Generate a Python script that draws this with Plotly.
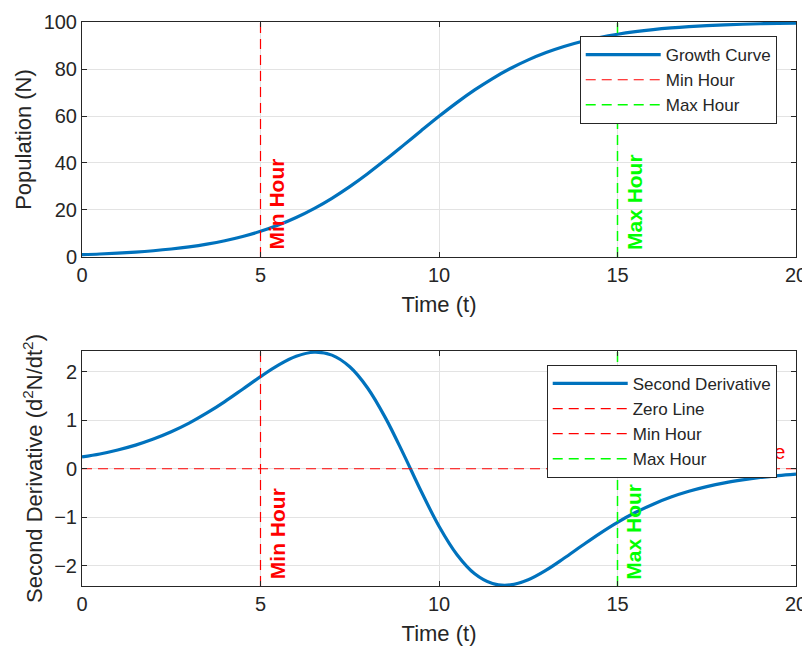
import plotly.graph_objects as go
from plotly.subplots import make_subplots

# ---- data ----
t = [0, 0.5, 1, 1.5, 2, 2.5, 3, 3.5, 4, 4.5, 5, 5.5, 6, 6.5, 7, 7.5, 8, 8.5, 9, 9.5,
     10, 10.5, 11, 11.5, 12, 12.5, 13, 13.5, 14, 14.5, 15, 15.5, 16, 16.5, 17, 17.5,
     18, 18.5, 19, 19.5, 20]
population = [1.0, 1.27, 1.63, 2.08, 2.66, 3.39, 4.31, 5.47, 6.91, 8.71, 10.91, 13.59,
              16.80, 20.58, 24.97, 29.94, 35.43, 41.34, 47.50, 53.74, 59.87, 65.70,
              71.10, 75.95, 80.22, 83.89, 86.99, 89.57, 91.68, 93.40, 94.79, 95.89,
              96.77, 97.47, 98.02, 98.45, 98.79, 99.05, 99.26, 99.42, 99.55]
second_deriv = [0.243, 0.305, 0.388, 0.488, 0.613, 0.763, 0.942, 1.151, 1.386, 1.642,
                1.900, 2.138, 2.320, 2.404, 2.345, 2.104, 1.667, 1.050, 0.312, -0.465,
                -1.186, -1.769, -2.168, -2.370, -2.398, -2.290, -2.093, -1.848, -1.590,
                -1.338, -1.106, -0.904, -0.731, -0.585, -0.466, -0.370, -0.292, -0.231,
                -0.181, -0.142, -0.111]
min_hour = 5
max_hour = 15
top_range = [0, 100]
bot_range = [-2.42, 2.43]
x_ticks = [0, 5, 10, 15, 20]
top_ticks = [0, 20, 40, 60, 80, 100]
bot_ticks = [-2, -1, 0, 1, 2]

BLUE = "#0072BD"
RED = "#FF0000"
GREEN = "#00FF00"
DARK = "#262626"
FONT = "Liberation Sans"
DASH = "10px,6px"

fig = make_subplots(rows=2, cols=1, vertical_spacing=0.1667)

# top
fig.add_trace(go.Scatter(x=t, y=population, mode="lines", name="Growth Curve",
                         line=dict(color=BLUE, width=3.2, shape="spline"), legend="legend"), 1, 1)
fig.add_trace(go.Scatter(x=[min_hour, min_hour], y=top_range, mode="lines", name="Min Hour",
                         line=dict(color=RED, width=1.2, dash=DASH), legend="legend"), 1, 1)
fig.add_trace(go.Scatter(x=[max_hour, max_hour], y=top_range, mode="lines", name="Max Hour",
                         line=dict(color=GREEN, width=1.5, dash=DASH), legend="legend"), 1, 1)

# bottom
fig.add_trace(go.Scatter(x=[t[-1]-0.3], y=[0.1], mode="text", text=["Zero Line"],
                         textposition="top left", textfont=dict(color=RED, size=20, family=FONT),
                         showlegend=False, hoverinfo="skip"), 2, 1)
fig.add_trace(go.Scatter(x=t, y=second_deriv, mode="lines", name="Second Derivative",
                         line=dict(color=BLUE, width=3.2, shape="spline"), legend="legend2"), 2, 1)
fig.add_trace(go.Scatter(x=[t[0], t[-1]], y=[0, 0], mode="lines", name="Zero Line",
                         line=dict(color=RED, width=1.2, dash=DASH), legend="legend2"), 2, 1)
fig.add_trace(go.Scatter(x=[min_hour, min_hour], y=bot_range, mode="lines", name="Min Hour",
                         line=dict(color=RED, width=1.2, dash=DASH), legend="legend2"), 2, 1)
fig.add_trace(go.Scatter(x=[max_hour, max_hour], y=bot_range, mode="lines", name="Max Hour",
                         line=dict(color=GREEN, width=1.5, dash=DASH), legend="legend2"), 2, 1)

ann_font = dict(family=FONT, size=21, color=RED)
for (xref, yref, yval) in [("x", "y", 2.1), ("x2", "y2", -2.33)]:
    fig.add_annotation(x=min_hour, y=yval, xref=xref, yref=yref, text="<b>Min Hour</b>",
                       textangle=-90, showarrow=False, xanchor="left", yanchor="bottom",
                       xshift=3, font=ann_font)
    fig.add_annotation(x=max_hour, y=yval, xref=xref, yref=yref, text="<b>Max Hour</b>",
                       textangle=-90, showarrow=False, xanchor="left", yanchor="bottom",
                       xshift=3, font=dict(ann_font, color=GREEN))

axis_common = dict(showline=True, mirror="ticks", linecolor=DARK, linewidth=1,
                   ticks="inside", ticklen=5, tickcolor=DARK, showgrid=True,
                   gridcolor="#E3E3E3", gridwidth=1, zeroline=False, automargin=False,
                   tickfont=dict(family=FONT, size=20, color=DARK),
                   title_font=dict(family=FONT, size=22, color=DARK))

fig.update_xaxes(axis_common, range=[0, 20], tickvals=x_ticks, title_text="Time (t)",
                 title_standoff=11)
fig.update_yaxes(axis_common, title_standoff=5)
fig.update_yaxes(range=top_range, tickvals=top_ticks, title_text="Population (N)", row=1, col=1)
fig.update_yaxes(range=bot_range, tickvals=bot_ticks,
                 title_text="Second Derivative (d<sup>2</sup>N/dt<sup>2</sup>)", row=2, col=1)

leg_common = dict(bgcolor="white", bordercolor=DARK, borderwidth=1,
                  font=dict(family=FONT, size=17, color=DARK),
                  xanchor="right", yanchor="top", tracegroupgap=0, itemwidth=75)
fig.update_layout(
    width=810, height=649,
    margin=dict(l=74, r=22, t=14, b=71),
    paper_bgcolor="white", plot_bgcolor="white",
    legend=dict(leg_common, x=0.973, y=0.975),
    legend2=dict(leg_common, x=0.973, y=0.392),
)

fig.write_html("out.html")
